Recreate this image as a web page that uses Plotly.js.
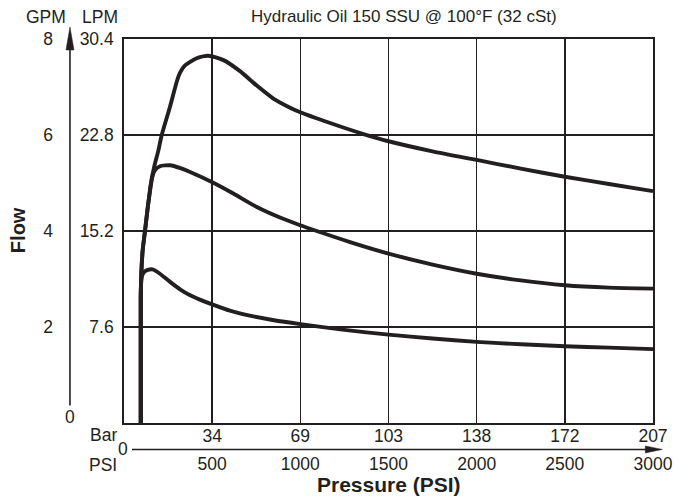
<!DOCTYPE html>
<html>
<head>
<meta charset="utf-8">
<script src="https://cdn.plot.ly/plotly-3.0.1.min.js"></script>
<style>html,body{margin:0;padding:0;background:#fff;}#chart{width:690px;height:497px;}</style>
</head>
<body>
<div id="chart"></div>
<script>
// ---- Data ----
const curveTopPsi = [95, 95, 98, 106, 119, 135, 153, 172, 195, 214, 261, 300, 318, 346, 412, 478, 564, 658, 753, 847, 942, 1003, 1169, 1358, 1500, 1750, 2000, 2250, 2500, 2750, 3000];
const curveTopGpm = [0, 2.6, 3.1, 3.6, 4.0, 4.5, 5.0, 5.35, 5.68, 6.0, 6.59, 7.12, 7.3, 7.45, 7.60, 7.65, 7.56, 7.33, 7.03, 6.76, 6.57, 6.47, 6.25, 6.02, 5.87, 5.66, 5.48, 5.3, 5.13, 4.98, 4.83];

const curveMidPsi = [95, 95, 98, 106, 119, 135, 150, 160, 176, 204, 261, 320, 375, 498, 620, 753, 885, 999, 1093, 1282, 1500, 1750, 2000, 2250, 2500, 2750, 3000];
const curveMidGpm = [0, 2.6, 3.1, 3.6, 4.0, 4.5, 4.9, 5.12, 5.27, 5.35, 5.37, 5.31, 5.23, 5.02, 4.78, 4.50, 4.28, 4.12, 4.0, 3.77, 3.53, 3.3, 3.11, 2.97, 2.87, 2.82, 2.80];

const curveLowPsi = [95, 95, 97, 103, 115, 135, 162, 200, 261, 320, 375, 430, 500, 600, 734, 850, 1000, 1250, 1500, 1750, 2000, 2250, 2500, 2750, 3000];
const curveLowGpm = [0, 2.6, 2.9, 3.07, 3.15, 3.19, 3.2, 3.12, 2.94, 2.78, 2.66, 2.57, 2.47, 2.34, 2.22, 2.14, 2.06, 1.94, 1.84, 1.76, 1.69, 1.64, 1.60, 1.57, 1.54];

const psiTicks = [500, 1000, 1500, 2000, 2500, 3000];
const barLabels = ["34", "69", "103", "138", "172", "207"];
const psiLabels = ["500", "1000", "1500", "2000", "2500", "3000"];
const gpmTicks = [2, 4, 6, 8];
const gpmLabels = ["2", "4", "6", "8"];
const lpmLabels = ["7.6", "15.2", "22.8", "30.4"];

// ---- Layout geometry ----
const W = 690, H = 497;
const L = 124, R = 652.7, T = 39, B = 422.6;
const pw = R - L, ph = B - T;
const px = x => (x - L) / pw;
const py = y => (B - y) / ph;

const ink = '#231f20';
const FONT = 'Liberation Sans, Arial, Helvetica, sans-serif';
const fs = 17.5;

function curve(xs, ys) {
  return {x: xs, y: ys, type: 'scatter', mode: 'lines',
    line: {color: ink, width: 3.9, shape: 'spline', smoothing: 0.6},
    hoverinfo: 'skip', showlegend: false, xaxis: 'x', yaxis: 'y'};
}

const traces = [
  curve(curveTopPsi, curveTopGpm),
  curve(curveMidPsi, curveMidGpm),
  curve(curveLowPsi, curveLowGpm),
  // invisible trace to activate the overlay axes
  {x: [0], y: [0], type: 'scatter', mode: 'markers', marker: {opacity: 0}, xaxis: 'x2', yaxis: 'y2', hoverinfo: 'skip', showlegend: false}
];

function ann(text, x, y, opts) {
  return Object.assign({text: text, x: px(x), y: py(y), xref: 'paper', yref: 'paper',
    showarrow: false, xanchor: 'center', yanchor: 'middle',
    font: {family: FONT, size: fs, color: ink}}, opts || {});
}

const annotations = [
  ann('Hydraulic Oil 150 SSU @ 100°F (32 cSt)', 404, 17, {font: {family: FONT, size: 17, color: ink}}),
  ann('GPM', 46, 17),
  ann('LPM', 100.5, 17),
  ann('0', 70, 417),
  ann('Bar', 119, 435, {xanchor: 'right'}),
  ann('0', 123, 449),
  ann('PSI', 119, 465, {xanchor: 'right'}),
  ann('<b>Pressure (PSI)</b>', 389, 484, {font: {family: FONT, size: 21, color: ink}}),
  ann('<b>Flow</b>', 18, 230, {textangle: -90, font: {family: FONT, size: 20, color: ink}})
];

const shapes = [
  // vertical GPM arrow
  {type: 'line', xref: 'paper', yref: 'paper', x0: px(70), x1: px(70), y0: py(405), y1: py(45), line: {color: ink, width: 1.6}},
  {type: 'path', xref: 'paper', yref: 'paper',
   path: `M ${px(70)} ${py(27)} L ${px(74)} ${py(50)} L ${px(66)} ${py(50)} Z`,
   fillcolor: ink, line: {color: ink, width: 0.5}},
  // horizontal pressure arrow
  {type: 'line', xref: 'paper', yref: 'paper', x0: px(132), x1: px(648), y0: py(449), y1: py(449), line: {color: ink, width: 1.6}},
  {type: 'path', xref: 'paper', yref: 'paper',
   path: `M ${px(662)} ${py(449)} L ${px(645)} ${py(445.5)} L ${px(645)} ${py(452.5)} Z`,
   fillcolor: ink, line: {color: ink, width: 0.5}}
];

const layout = {
  width: W, height: H,
  margin: {l: L, r: W - R, t: T, b: H - B, pad: 0},
  paper_bgcolor: '#fff', plot_bgcolor: '#fff',
  font: {family: FONT, size: fs, color: ink},
  showlegend: false,
  xaxis: {range: [0, 3000], tickmode: 'array', tickvals: psiTicks, ticktext: barLabels,
    showgrid: true, gridcolor: ink, gridwidth: 1.5, zeroline: false,
    showline: true, linecolor: ink, linewidth: 1.8, mirror: true, ticks: '',
    ticklabelstandoff: -4, tickfont: {family: FONT, size: fs, color: ink}, fixedrange: true},
  xaxis2: {range: [0, 3000], overlaying: 'x', anchor: 'y', side: 'bottom', tickmode: 'array',
    tickvals: psiTicks, ticktext: psiLabels, showgrid: false, zeroline: false, showline: false,
    ticks: '', ticklabelstandoff: 28, tickfont: {family: FONT, size: fs, color: ink}, fixedrange: true},
  yaxis: {range: [0, 8], tickmode: 'array', tickvals: gpmTicks, ticktext: lpmLabels,
    showgrid: true, gridcolor: ink, gridwidth: 1.5, zeroline: false,
    showline: true, linecolor: ink, linewidth: 1.8, mirror: true, ticks: '',
    ticklabelstandoff: 5, tickfont: {family: FONT, size: fs, color: ink}, fixedrange: true},
  yaxis2: {range: [0, 8], overlaying: 'y', anchor: 'x', side: 'left', tickmode: 'array',
    tickvals: gpmTicks, ticktext: gpmLabels, showgrid: false, zeroline: false, showline: false,
    ticks: '', ticklabelstandoff: 70, tickfont: {family: FONT, size: fs, color: ink}, fixedrange: true},
  annotations: annotations,
  shapes: shapes
};

Plotly.newPlot('chart', traces, layout, {displayModeBar: false, staticPlot: true});
</script>
</body>
</html>
